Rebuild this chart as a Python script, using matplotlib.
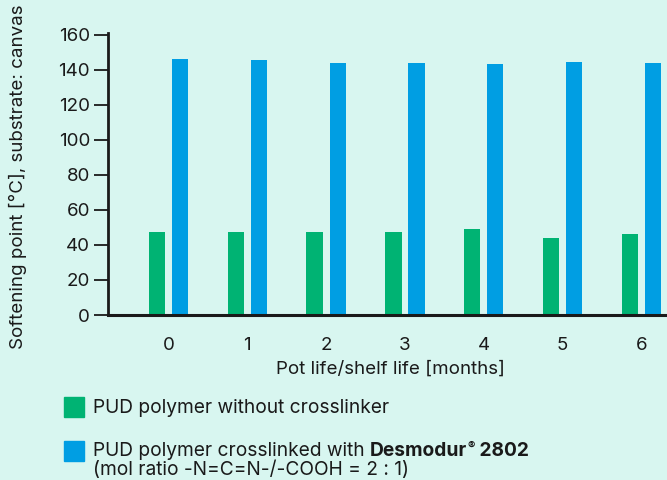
import matplotlib.pyplot as plt
import matplotlib.patches as mpatches
import numpy as np

months = ["0", "1", "2", "3", "4", "5", "6"]
without_crosslinker = [47.4, 47.4, 47.4, 47.4, 49.1, 44.0, 46.3]
with_desmodur = [146.3, 145.7, 144.0, 144.0, 143.4, 144.6, 144.0]

green = "#00B373"
blue = "#009EE3"
bg = "#D8F6F0"
ink = "#1a1a1a"

plt.rcParams["font.family"] = ["Inter", "DejaVu Sans"]

fig = plt.figure(figsize=(6.67, 4.8), dpi=100, facecolor=bg)
ax = fig.add_axes([108 / 667, 1 - 315 / 480, 1 - 108 / 667, 282 / 480])
ax.set_facecolor(bg)

x = np.arange(len(months))
w = 0.206
ax.bar(x - 0.146, without_crosslinker, w, color=green)
ax.bar(x + 0.146, with_desmodur, w, color=blue)

ax.set_xlim(-0.768, 6.326)
ax.set_ylim(0, 161)
ax.set_yticks(range(0, 161, 20))
ax.set_xticks(x)
ax.set_xticklabels(months)
ax.tick_params(axis="x", length=0, labelsize=13.5, pad=16, colors=ink)
ax.tick_params(axis="y", length=10, width=1.3, labelsize=13.5, pad=3, colors=ink)

for s in ["top", "right"]:
    ax.spines[s].set_visible(False)
ax.spines["left"].set_linewidth(2)
ax.spines["bottom"].set_linewidth(2.2)
ax.spines["left"].set_color(ink)
ax.spines["bottom"].set_color(ink)

fig.text(390 / 667, 1 - 369 / 480, "Pot life/shelf life [months]", fontsize=13.5,
         ha="center", va="center", color=ink)
fig.text(18 / 667, 1 - 177 / 480, "Softening point [°C], substrate: canvas", fontsize=13.5,
         ha="center", va="center", rotation=90, color=ink)

# legend drawn by hand
fig.patches.append(mpatches.Rectangle((64 / 667, 1 - 417 / 480), 20 / 667, 20 / 480,
                                      transform=fig.transFigure, color=green))
fig.patches.append(mpatches.Rectangle((64 / 667, 1 - 461 / 480), 20 / 667, 20 / 480,
                                      transform=fig.transFigure, color=blue))
fig.text(93 / 667, 1 - 413 / 480, "PUD polymer without crosslinker", fontsize=13.8,
         va="baseline", color=ink)

base1 = 480 - 456
t1 = fig.text(93 / 667, base1 / 480, "PUD polymer crosslinked with ", fontsize=13.8,
              va="baseline", color=ink)
fig.canvas.draw()
r = fig.canvas.get_renderer()
bb = t1.get_window_extent(r)
t2 = fig.text(bb.x1 / 667, base1 / 480, "Desmodur", fontsize=13.8, fontweight="bold",
              color=ink, va="baseline")
bb2 = t2.get_window_extent(r)
t3 = fig.text((bb2.x1 + 0.5) / 667, (base1 + 7) / 480, "®", fontsize=8, fontweight="bold",
              color=ink, va="baseline")
bb3 = t3.get_window_extent(r)
fig.text(bb3.x1 / 667, base1 / 480, " 2802", fontsize=13.8, fontweight="bold",
         color=ink, va="baseline")
fig.text(93 / 667, 1 - 475 / 480, "(mol ratio -N=C=N-/-COOH = 2 : 1)", fontsize=13.8,
         va="baseline", color=ink)

fig.savefig("out.png", dpi=100, facecolor=bg)
